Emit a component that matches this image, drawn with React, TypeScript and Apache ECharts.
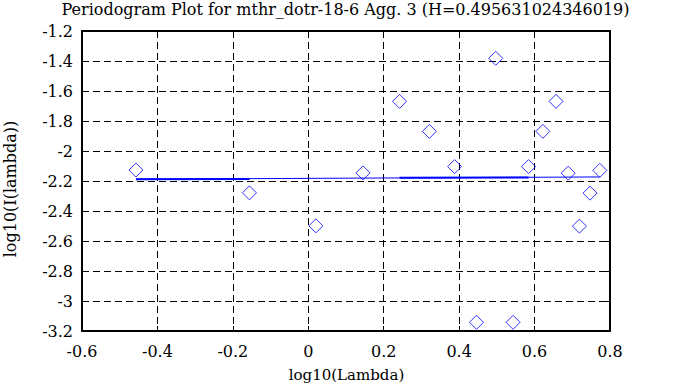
import React, { useEffect, useRef } from "react";
import * as echarts from "echarts";

const titleText = "Periodogram Plot for mthr_dotr-18-6 Agg. 3 (H=0.495631024346019)";
const xName = "log10(Lambda)";
const yName = "log10(I(lambda))";

const logLambda = [
  -0.457, -0.156, 0.02, 0.145, 0.242, 0.321, 0.388, 0.446, 0.497,
  0.543, 0.584, 0.622, 0.657, 0.689, 0.719, 0.747, 0.773,
];
const logI = [
  -2.127, -2.279, -2.499, -2.146, -1.669, -1.869, -2.104, -3.142, -1.382,
  -3.142, -2.104, -1.869, -1.669, -2.148, -2.501, -2.281, -2.129,
];

const fitLine: [number, number][] = [
  [-0.457, -2.188],
  [0.773, -2.173],
];
const fitSeg1: [number, number][] = [
  [-0.457, -2.188],
  [-0.156, -2.186],
];
const fitSeg2: [number, number][] = [
  [0.242, -2.179],
  [0.584, -2.177],
];

const xMin = -0.6, xMax = 0.8, yMin = -3.2, yMax = -1.2, step = 0.2;

const FONT = "'DejaVu Serif', serif";

export default function App() {
  const ref = useRef<HTMLDivElement>(null);
  useEffect(() => {
    if (!ref.current) return;
    const chart = echarts.init(ref.current, undefined, { renderer: "svg" });
    const fmt = (v: number) => String(Math.round(v * 10) / 10);
    const common = {
      axisLine: { show: true, onZero: false, lineStyle: { color: "#000", width: 2 } },
      axisTick: { show: true, inside: true, length: 5, lineStyle: { color: "#000", width: 1 } },
    };
    const dashed = { show: true, lineStyle: { color: "#000", type: [7, 4] as any, width: 1 } };
    const labelStyle = { fontFamily: FONT, fontSize: 16, color: "#000" };
    chart.setOption({
      animation: false,
      backgroundColor: "#fff",
      grid: { left: 82, right: 63, top: 31, bottom: 56 },
      xAxis: [
        {
          type: "value", min: xMin, max: xMax, interval: step, position: "bottom",
          ...common, splitLine: dashed,
          axisLabel: { ...labelStyle, margin: 12, formatter: fmt },
        },
        {
          type: "value", min: xMin, max: xMax, interval: step, position: "top",
          ...common, splitLine: { show: false }, axisLabel: { show: false },
        },
      ],
      yAxis: [
        {
          type: "value", min: yMin, max: yMax, interval: step, position: "left",
          ...common, splitLine: dashed,
          axisLabel: { ...labelStyle, margin: 9, padding: [3, 0, 0, 0], formatter: fmt },
        },
        {
          type: "value", min: yMin, max: yMax, interval: step, position: "right",
          ...common, splitLine: { show: false }, axisLabel: { show: false },
        },
      ],
      series: [
        {
          type: "line", data: fitLine, symbol: "none", silent: true,
          lineStyle: { color: "#0000ff", width: 1 },
        },
        {
          type: "line", data: fitSeg1, symbol: "none", silent: true,
          lineStyle: { color: "#0000ff", width: 2 },
        },
        {
          type: "line", data: fitSeg2, symbol: "none", silent: true,
          lineStyle: { color: "#0000ff", width: 2 },
        },
        {
          type: "scatter",
          data: logLambda.map((x, i) => [x, logI[i]]),
          symbol: "diamond",
          symbolSize: 14,
          itemStyle: { color: "rgba(0,0,0,0)", borderColor: "#0000ff", borderWidth: 1 },
        },
      ],
      graphic: [
        {
          type: "text", x: 345.5, y: 9,
          style: { text: titleText, fontFamily: FONT, fontSize: 16, fill: "#000", align: "center", verticalAlign: "middle" },
        },
        {
          type: "text", x: 346.5, y: 375,
          style: { text: xName, fontFamily: FONT, fontSize: 15, fill: "#000", align: "center", verticalAlign: "middle" },
        },
        {
          type: "text", x: 10, y: 189, rotation: Math.PI / 2,
          style: { text: yName, fontFamily: FONT, fontSize: 16, fill: "#000", align: "center", verticalAlign: "middle" },
        },
      ],
    });
    return () => chart.dispose();
  }, []);
  return (
    <div
      ref={ref}
      style={{ position: "fixed", left: 0, top: 0, width: 673, height: 387, background: "#fff" }}
    />
  );
}
